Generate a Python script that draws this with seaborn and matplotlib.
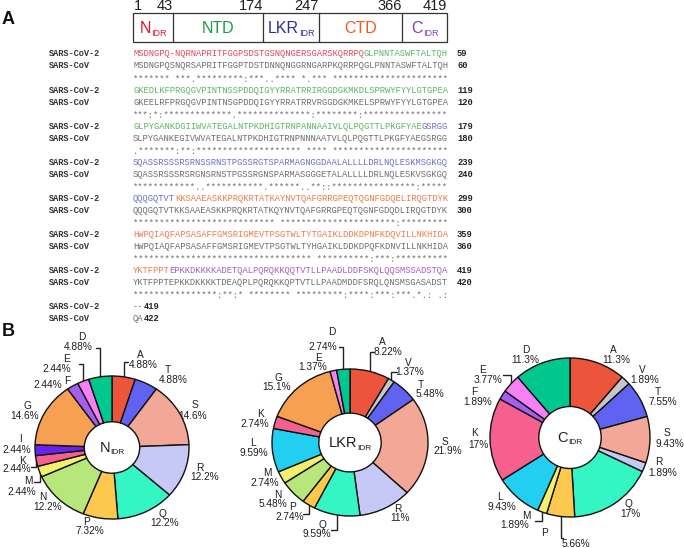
import numpy as np
import matplotlib
matplotlib.use('Agg')
import matplotlib.pyplot as plt
from matplotlib.patches import Rectangle
import seaborn as sns

# ---------------- data ----------------
domain_bounds = [1, 43, 174, 247, 366, 419]
domain_main = ['N', 'NTD', 'LKR', 'CTD', 'C']
domain_sub = ['IDR', '', 'IDR', '', 'IDR']
domain_res_ranges = [(1, 43), (44, 174), (175, 247), (248, 366), (367, 419)]

cov2_rows = [
    "MSDNGPQ-NQRNAPRITFGGPSDSTGSNQNGERSGARSKQRRPQGLPNNTASWFTALTQH",
    "GKEDLKFPRGQGVPINTNSSPDDQIGYYRRATRRIRGGDGKMKDLSPRWYFYYLGTGPEA",
    "GLPYGANKDGIIWVATEGALNTPKDHIGTRNPANNAAIVLQLPQGTTLPKGFYAEGSRGG",
    "SQASSRSSSRSRNSSRNSTPGSSRGTSPARMAGNGGDAALALLLLDRLNQLESKMSGKGQ",
    "QQQGQTVTKKSAAEASKKPRQKRTATKAYNVTQAFGRRGPEQTQGNFGDQELIRQGTDYK",
    "HWPQIAQFAPSASAFFGMSRIGMEVTPSGTWLTYTGAIKLDDKDPNFKDQVILLNKHIDA",
    "YKTFPPTEPKKDKKKKADETQALPQRQKKQQTVTLLPAADLDDFSKQLQQSMSSADSTQA",
    "--",
]
cov_rows = [
    "MSDNGPQSNQRSAPRITFGGPTDSTDNNQNGGRNGARPKQRRPQGLPNNTASWFTALTQH",
    "GKEELRFPRGQGVPINTNSGPDDQIGYYRRATRRVRGGDGKMKELSPRWYFYYLGTGPEA",
    "SLPYGANKEGIVWVATEGALNTPKDHIGTRNPNNNAATVLQLPQGTTLPKGFYAEGSRGG",
    "SQASSRSSSRSRGNSRNSTPGSSRGNSPARMASGGGETALALLLLDRLNQLESKVSGKGQ",
    "QQQGQTVTKKSAAEASKKPRQKRTATKQYNVTQAFGRRGPEQTQGNFGDQDLIRQGTDYK",
    "HWPQIAQFAPSASAFFGMSRIGMEVTPSGTWLTYHGAIKLDDKDPQFKDNVILLNKHIDA",
    "YKTFPPTEPKKDKKKKTDEAQPLPQRQKKQPTVTLLPAADMDDFSRQLQNSMSGASADST",
    "QA",
]
cov2_ends = [59, 119, 179, 239, 299, 359, 419, 419]
cov_ends = [60, 120, 180, 240, 300, 360, 420, 422]
name_cov2 = "SARS-CoV-2"
name_cov = "SARS-CoV"

nidr_res = ['A', 'T', 'S', 'R', 'Q', 'P', 'N', 'M', 'K', 'I', 'G', 'F', 'E', 'D']
nidr_pct = [4.88, 4.88, 14.6, 12.2, 12.2, 7.32, 12.2, 2.44, 2.44, 2.44, 14.6, 2.44, 2.44, 4.88]
lkr_res = ['A', 'V', 'T', 'S', 'R', 'Q', 'P', 'N', 'M', 'L', 'K', 'G', 'E', 'D']
lkr_pct = [8.22, 1.37, 5.48, 21.9, 11, 9.59, 2.74, 5.48, 2.74, 9.59, 2.74, 15.1, 1.37, 2.74]
cidr_res = ['A', 'V', 'T', 'S', 'R', 'Q', 'P', 'M', 'L', 'K', 'F', 'E', 'D']
cidr_pct = [11.3, 1.89, 7.55, 9.43, 1.89, 17, 5.66, 1.89, 9.43, 17, 1.89, 3.77, 11.3]

# ---------------- style ----------------
sns.set_theme(style='white')
plt.rcParams['font.family'] = ['Liberation Sans', 'DejaVu Sans']

res_colors = {
    'A': '#ec553b', 'V': '#c6c6c6', 'T': '#6062f2', 'S': '#f3a797', 'R': '#c6c8f6',
    'Q': '#33f6c4', 'P': '#fcc84e', 'N': '#b7e77b', 'M': '#f5ef6e', 'L': '#22cff0',
    'K': '#f5608e', 'I': '#6424ee', 'G': '#f8a052', 'F': '#a65ef0', 'E': '#f781f3',
    'D': '#00c78e'}
dom_box_colors = ['#e3122d', '#1f9a3c', '#2b2f9e', '#f25a1a', '#8b3fb0']
dom_seq_colors = ['#e8475c', '#5cb663', '#6d6dc6', '#f07a4c', '#a45ec6']
gray_seq = '#6e6e6e'
txt = '#1e1e1e'

W, H = 684, 548
fig = plt.figure(figsize=(W / 100, H / 100), dpi=100)
ax0 = fig.add_axes([0, 0, 1, 1])
ax0.set_xlim(0, W)
ax0.set_ylim(H, 0)
ax0.axis('off')

sub_items = []


def sub_label(xc, yb, main, sub, fs_main, fs_sub, color, dy_sub):
    t1 = ax0.text(xc, yb, main, ha='left', va='baseline', fontsize=fs_main, color=color)
    t2 = None
    if sub:
        t2 = ax0.text(xc, yb + dy_sub, sub, ha='left', va='baseline', fontsize=fs_sub, color=color)
    sub_items.append((xc, t1, t2))


# panel labels
ax0.text(8, 19, 'A', fontsize=13, fontweight='bold', ha='center', va='center', color='#111')
ax0.text(8, 331, 'B', fontsize=13, fontweight='bold', ha='center', va='center', color='#111')

# ---------------- domain box ----------------
box_x = [133, 173, 263, 319, 402, 447]
box_top, box_bot = 13, 42
ax0.add_patch(Rectangle((box_x[0], box_top), box_x[-1] - box_x[0], box_bot - box_top,
                        fill=False, ec='#333333', lw=0.9))
for x in box_x[1:-1]:
    ax0.plot([x, x], [box_top, box_bot], color='#333333', lw=0.9)
for i, (x, b) in enumerate(zip(box_x, domain_bounds)):
    ax0.text(x + (1 if i == 0 else 0), 6, str(b), ha='left' if i == 0 else 'right',
             va='center', fontsize=10.5, color=txt)
for i in range(len(domain_main)):
    xc = (box_x[i] + box_x[i + 1]) / 2
    sub_label(xc, 33, domain_main[i], domain_sub[i], 11.5, 6.5, dom_box_colors[i], 2.5)

# ---------------- alignment ----------------
strong = ['STA', 'NEQK', 'NHQK', 'NDEQ', 'QHRK', 'MILV', 'MILF', 'HY', 'FYW']
weak = ['CSA', 'ATV', 'SAG', 'STNK', 'SGND', 'SNDEQK', 'NDEQHK', 'NEQHRK', 'FVLIM', 'HFY']


def cons(a, b):
    out = []
    for x, y in zip(a, b):
        if x == '-' or y == '-':
            out.append(' ')
        elif x == y:
            out.append('*')
        elif any(x in g and y in g for g in strong):
            out.append(':')
        elif any(x in g and y in g for g in weak):
            out.append('.')
        else:
            out.append(' ')
    return ''.join(out)


def dom_index(resnum):
    for k, (a, b) in enumerate(domain_res_ranges):
        if a <= resnum <= b:
            return k
    return None


fs = 6.3
cw = 0.6 * fs * 100 / 72
x_name, x_seq, x_num = 49, 133, 457
y0, dyb = 56.5, 36.1
mono = 'Liberation Mono'

resnum = 0
for k, (r2, r1) in enumerate(zip(cov2_rows, cov_rows)):
    yb = y0 + k * dyb
    ax0.text(x_name, yb, name_cov2, family=mono, fontweight='bold', fontsize=6.2,
             ha='left', va='baseline', color='#333333')
    ax0.text(x_name, yb + 12, name_cov, family=mono, fontweight='bold', fontsize=6.2,
             ha='left', va='baseline', color='#333333')
    last = k == len(cov2_rows) - 1
    segs = []
    for j, ch in enumerate(r2):
        if last:
            col = gray_seq
        else:
            if ch != '-':
                resnum += 1
            d = dom_index(max(resnum, 1))
            col = dom_seq_colors[d]
        if segs and segs[-1][2] == col:
            segs[-1][1] += ch
        else:
            segs.append([j, ch, col])
    for j, s, col in segs:
        ax0.text(x_seq + j * cw, yb, s, family=mono, fontsize=fs, ha='left',
                 va='baseline', color=col)
    ax0.text(x_seq, yb + 12, r1, family=mono, fontsize=fs, ha='left', va='baseline',
             color=gray_seq)
    if last:
        ax0.text(x_seq + len(r2) * cw, yb, str(cov2_ends[k]), family=mono, fontweight='bold',
                 fontsize=fs, ha='left', va='baseline', color='#222222')
        ax0.text(x_seq + len(r1) * cw, yb + 12, str(cov_ends[k]), family=mono,
                 fontweight='bold', fontsize=fs, ha='left', va='baseline', color='#222222')
    else:
        ax0.text(x_num, yb, str(cov2_ends[k]), family=mono, fontweight='bold', fontsize=fs,
                 ha='left', va='baseline', color='#222222')
        ax0.text(x_num, yb + 12, str(cov_ends[k]), family=mono, fontweight='bold', fontsize=fs,
                 ha='left', va='baseline', color='#222222')
        ax0.text(x_seq, yb + 25, cons(r2, r1), family=mono, fontsize=fs, ha='left',
                 va='baseline', color=gray_seq)

# ---------------- donuts ----------------
nidr_layout = {
    'A': ((140, 355), (143, 365)), 'T': ((168, 370), (173, 380)),
    'S': ((195, 405), (193, 416)), 'R': ((200, 468), (205, 477)),
    'Q': ((162, 514), (165, 523)), 'P': ((87, 522), (90, 531)),
    'N': ((43, 497), (48, 507)), 'M': ((28, 480.5), (22, 492)),
    'K': ((22, 461), (17, 469.5)), 'I': ((21, 439), (17, 450)),
    'G': ((27, 406), (25, 416)), 'F': ((67, 381), (48, 385)),
    'E': ((67, 358.5), (57, 368.5)), 'D': ((82, 337), (78, 347.5))}
nidr_leaders = {'A': (128, 362), 'D': (96, 347.5), 'E': (79, 364), 'M': (34, 482), 'K': (31, 467)}

lkr_layout = {
    'D': ((332, 332), (323, 347)), 'E': ((319, 358), (313, 367)),
    'A': ((382, 342), (388, 352)), 'V': ((408, 363), (410, 372)),
    'T': ((421, 385), (430, 394)), 'S': ((445, 442), (448, 451)),
    'R': ((398, 509), (400, 518)), 'Q': ((322, 525), (317, 534)),
    'P': ((293, 507), (290, 517)), 'N': ((278, 495), (273, 504)),
    'M': ((267, 473), (265, 483)), 'L': ((253, 443), (254, 453)),
    'K': ((260, 414), (255, 424)), 'G': ((278, 378), (277, 387))}
lkr_leaders = {'D': (339, 347), 'A': (374, 352), 'V': (397, 372), 'Q': (331, 530), 'P': (303, 514)}

cidr_layout = {
    'D': ((526, 350), (525, 360)), 'A': ((613, 350), (616, 360)),
    'V': ((642, 370), (645, 380)), 'T': ((658, 392), (663, 402)),
    'S': ((667, 433), (670, 444)), 'R': ((659, 462), (663, 473)),
    'Q': ((628, 504), (630, 514)), 'P': ((544, 533), (576, 544)),
    'M': ((526, 516), (515, 525)), 'L': ((500, 497), (502, 507)),
    'K': ((474, 433), (478, 445)), 'F': ((474, 392), (478, 402)),
    'E': ((483, 370), (488, 380))}
cidr_leaders = {'E': (503, 375), 'M': (535, 521), 'P': (563, 538)}

donut_specs = [
    (112, 447.5, 77, 71.5, nidr_res, nidr_pct, ('N', 'IDR'), nidr_layout, nidr_leaders, 0.36),
    (350, 442.5, 78, 73.5, lkr_res, lkr_pct, ('LKR', 'IDR'), lkr_layout, lkr_leaders, 0.40),
    (570, 437.5, 80, 79.5, cidr_res, cidr_pct, ('C', 'IDR'), cidr_layout, cidr_leaders, 0.39),
]

m = 1.05
for cx, cy, rx, ry, res, pct, clab, layout, leaders, hole in donut_specs:
    tot = float(sum(pct))
    cum = np.cumsum([0] + list(pct))
    for r, (xs, ys) in leaders.items():
        i = res.index(r)
        th = np.deg2rad(90 - 360 * (cum[i] + pct[i] / 2) / tot)
        xe = cx + rx * np.cos(th)
        ye = cy - ry * np.sin(th) * 0.92
        ax0.plot([xs, xe, xe], [ys, ys, ye], color='#222222', lw=1.0, solid_joinstyle='miter')
    for r, v in zip(res, pct):
        (lx, ly), (px, py) = layout[r]
        ax0.text(lx, ly, r, ha='center', va='center', fontsize=7.3, color=txt)
        ax0.text(px, py, f"{v:g}%", ha='center', va='center', fontsize=7.3, color=txt)
    ax = fig.add_axes([(cx - rx * m) / W, (H - (cy + ry * m)) / H, 2 * rx * m / W, 2 * ry * m / H])
    cols = sns.color_palette([res_colors[r] for r in res])
    ax.pie(pct, colors=cols, startangle=90, counterclock=False, radius=1,
           wedgeprops=dict(width=1 - hole, edgecolor='#111111', linewidth=1.0))
    ax.set_xlim(-m, m)
    ax.set_ylim(-m, m)
    ax.set_aspect('auto')
    ax.axis('off')
    sub_label(cx, cy + 4.5, clab[0], clab[1], 10.5, 6, txt, 2.5)

# center the main+subscript labels
fig.canvas.draw()
renderer = fig.canvas.get_renderer()
for xc, t1, t2 in sub_items:
    w1 = t1.get_window_extent(renderer).width
    w2 = t2.get_window_extent(renderer).width if t2 is not None else 0
    gap = 0.5 if t2 is not None else 0
    left = xc - (w1 + gap + w2) / 2
    t1.set_x(left)
    if t2 is not None:
        t2.set_x(left + w1 + gap)

fig.savefig('out.png', dpi=100)
